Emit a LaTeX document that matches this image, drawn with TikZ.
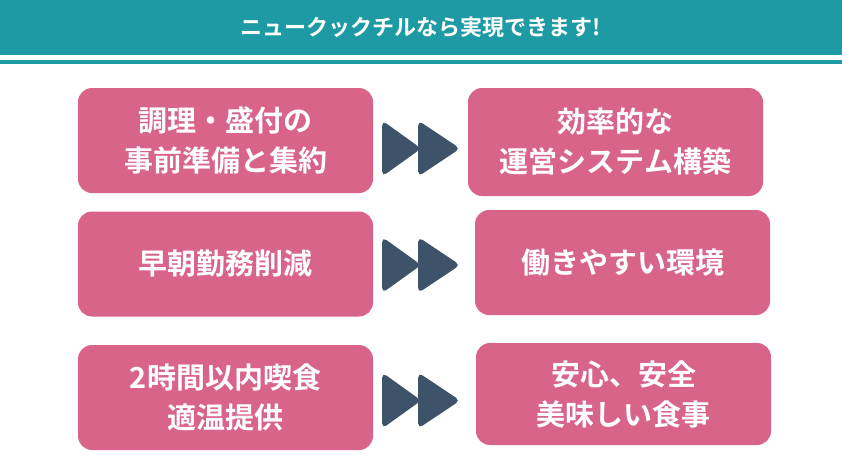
\documentclass[tikz,border=0pt]{standalone}
\usepackage{fontspec}
\newfontfamily\jpfont{Noto Sans CJK JP}[BoldFont={* Bold}]
\usepackage{tikz}
\usetikzlibrary{positioning,calc}

\definecolor{headteal}{HTML}{1E9AA4}
\definecolor{cardpink}{HTML}{D9648A}
\definecolor{ffslate}{HTML}{3E5369}

\begin{document}
\begin{tikzpicture}[
  x=1pt, y=-1pt,
  card/.style={fill=cardpink, rounded corners=14pt, inner sep=0pt, align=center,
    minimum width=295pt, minimum height=105pt, text=white,
    font=\jpfont\bfseries\fontsize{29}{40}\selectfont},
  title/.style={text=white, font=\jpfont\bfseries\fontsize{22}{24}\selectfont},
  ffwd/.style={fill=ffslate, rounded corners=5pt},
]
\useasboundingbox (0,0) rectangle (842,474);
% header
\fill[headteal] (0,0) rectangle (842,55);
\fill[headteal] (0,60) rectangle (842,64);
\node[title] (head) at (421,27) {ニュークックチルなら実現できます!};

% left column
\node[card] (l1) at (225.5,140.5) {調理・盛付の\\事前準備と集約};
\node[card] (l2) at (225.5,264) {早朝勤務削減};
\node[card] (l3) at (225.5,397.5) {2時間以内喫食\\適温提供};
% right column
\node[card, minimum height=108pt] (r1) at (615.5,142) {効率的な\\運営システム構築};
\node[card] (r2) at (622.5,262.5) {働きやすい環境};
\node[card, minimum height=102pt] (r3) at (623.5,394) {安心、安全\\美味しい食事};

% fast-forward marks
\foreach \i/\dy in {1/8,2/1,3/3} {
  \coordinate (a\i) at ($(l\i.east)+(48,\dy)$);
  \fill[ffwd] ($(a\i)+(-39,-28)$) -- ++(39,28) -- ++(-39,28) -- cycle;
  \fill[ffwd] ($(a\i)+(-3,-28)$) -- ++(42,28) -- ++(-42,28) -- cycle;
}
\end{tikzpicture}
\end{document}
